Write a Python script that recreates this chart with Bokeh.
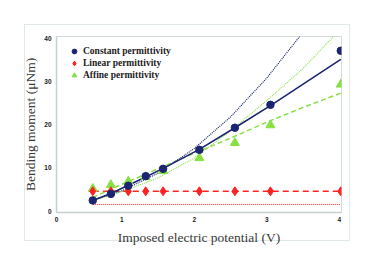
from bokeh.plotting import figure
from bokeh.models import Range1d, FixedTicker, Legend, LegendItem
from bokeh.embed import file_html
from bokeh.resources import INLINE

# ---- data ----
voltage = [0.6, 0.85, 1.09, 1.33, 1.57, 2.07, 2.56, 3.05, 4.02]
constant_pts = [2.5, 4.0, 5.9, 8.1, 9.8, 14.2, 19.3, 24.6, 37.1]
linear_pts = [4.6, 4.6, 4.6, 4.6, 4.6, 4.6, 4.6, 4.6, 4.6]
affine_pts = [5.2, 6.1, 6.9, 7.9, 9.3, 12.3, 15.8, 19.9, 29.3]

constant_fit = [2.5, 4.1, 6.0, 7.9, 9.9, 14.3, 19.3, 24.4, 35.1]

const_dot_x = [0.6, 1.0, 1.5, 2.0, 2.5, 3.0, 3.5]
const_dot_y = [2.6, 4.7, 8.8, 14.5, 21.8, 30.8, 41.4]

affine_dot_x = [0.6, 1.0, 1.5, 2.0, 2.5, 3.0, 3.5, 3.95]
affine_dot_y = [2.4, 4.5, 7.7, 12.3, 18.6, 25.6, 33.0, 41.0]

affine_dash_x = [0.6, 1.0, 1.5, 2.0, 2.5, 3.0, 3.5, 4.02]
affine_dash_y = [3.2, 6.2, 9.8, 13.4, 16.9, 20.6, 24.0, 27.3]

linear_dash_x = [0.6, 4.02]
linear_dash_y = [4.6, 4.6]
linear_dot_x = [0.6, 4.02]
linear_dot_y = [1.55, 1.55]

x_ticks = [0.1, 1, 2, 3, 4]
x_tick_labels = {0.1: "0", 1: "1", 2: "2", 3: "3", 4: "4"}
y_ticks = [0, 10, 20, 30, 40]

NAVY = "#1b2572"
RED = "#ff2222"
GREEN = "#86e043"

p = figure(width=374, height=265, frame_width=285, frame_height=176,
           x_range=Range1d(0.1, 4.03), y_range=Range1d(-0.3, 40.4),
           output_backend="svg", toolbar_location=None,
           min_border_left=56, min_border_top=36, min_border_right=33, min_border_bottom=53)

p.background_fill_color = "white"
p.border_fill_color = "white"
p.border_fill_alpha = 0
p.outline_line_color = "#d3dbdb"
p.outline_line_width = 1
p.grid.visible = False
# faint outer box around the whole chart
p.styles = {"outline": "1px solid #e1e8e8", "outline-offset": "-25px"}

for ax in (p.xaxis[0], p.yaxis[0]):
    ax.axis_line_color = "#c6d0d0"
    ax.axis_line_width = 1.5
    ax.major_tick_line_color = None
    ax.minor_tick_line_color = None
    ax.major_tick_out = 0
    ax.major_tick_in = 0
    ax.minor_tick_out = 0
    ax.minor_tick_in = 0
    ax.major_label_text_font = "Liberation Sans"
    ax.major_label_text_font_style = "bold"
    ax.major_label_text_font_size = "6.5px"
    ax.major_label_text_color = "#222222"
    ax.axis_label_text_font = "Liberation Serif"
    ax.axis_label_text_font_style = "normal"
    ax.axis_label_text_font_size = "13.5px"
    ax.axis_label_text_color = "#3a3a3a"

p.xaxis.ticker = FixedTicker(ticks=x_ticks)
p.xaxis.major_label_overrides = x_tick_labels
p.yaxis.ticker = FixedTicker(ticks=y_ticks)
p.xaxis.major_label_standoff = 4
p.yaxis.major_label_standoff = 5
p.xaxis.axis_label = "Imposed electric potential (V)"
p.yaxis.axis_label = "Bending moment (\u03bcNm)"
p.xaxis.axis_label_standoff = 5
p.yaxis.axis_label_standoff = 3

# lines
p.line(linear_dot_x, linear_dot_y, line_color=RED, line_width=1.2, line_dash="1 1")
p.line(linear_dash_x, linear_dash_y, line_color=RED, line_width=1.5, line_dash="6 4")
p.line(affine_dot_x, affine_dot_y, line_color=GREEN, line_width=1.1, line_dash="1 1")
p.line(affine_dash_x, affine_dash_y, line_color=GREEN, line_width=1.5, line_dash="5 3")
p.line(const_dot_x, const_dot_y, line_color=NAVY, line_width=1.2, line_dash="1 1")
p.line(voltage, constant_fit, line_color=NAVY, line_width=1.6)

# markers
r_aff = p.scatter(voltage, affine_pts, marker="triangle", size=9,
                  fill_color=GREEN, line_color=GREEN)
r_lin = p.scatter(voltage, linear_pts, marker="diamond", size=9,
                  fill_color=RED, line_color=RED)
r_con = p.scatter(voltage, constant_pts, marker="circle", size=7.5,
                  fill_color=NAVY, line_color=NAVY)

legend = Legend(items=[
    LegendItem(label="Constant permittivity", renderers=[r_con]),
    LegendItem(label="Linear permittivity", renderers=[r_lin]),
    LegendItem(label="Affine permittivity", renderers=[r_aff]),
], location=(12, 131))
legend.background_fill_alpha = 0
legend.border_line_color = None
legend.padding = 4
legend.margin = 0
legend.spacing = 0
legend.glyph_width = 12
legend.glyph_height = 12
legend.label_height = 12
legend.label_standoff = 3
legend.label_text_font = "Liberation Serif"
legend.label_text_font_style = "bold"
legend.label_text_font_size = "9.5px"
legend.label_text_color = "#222222"
legend.label_text_baseline = "middle"
p.add_layout(legend)

open("out.html", "w").write(file_html(p, INLINE))
